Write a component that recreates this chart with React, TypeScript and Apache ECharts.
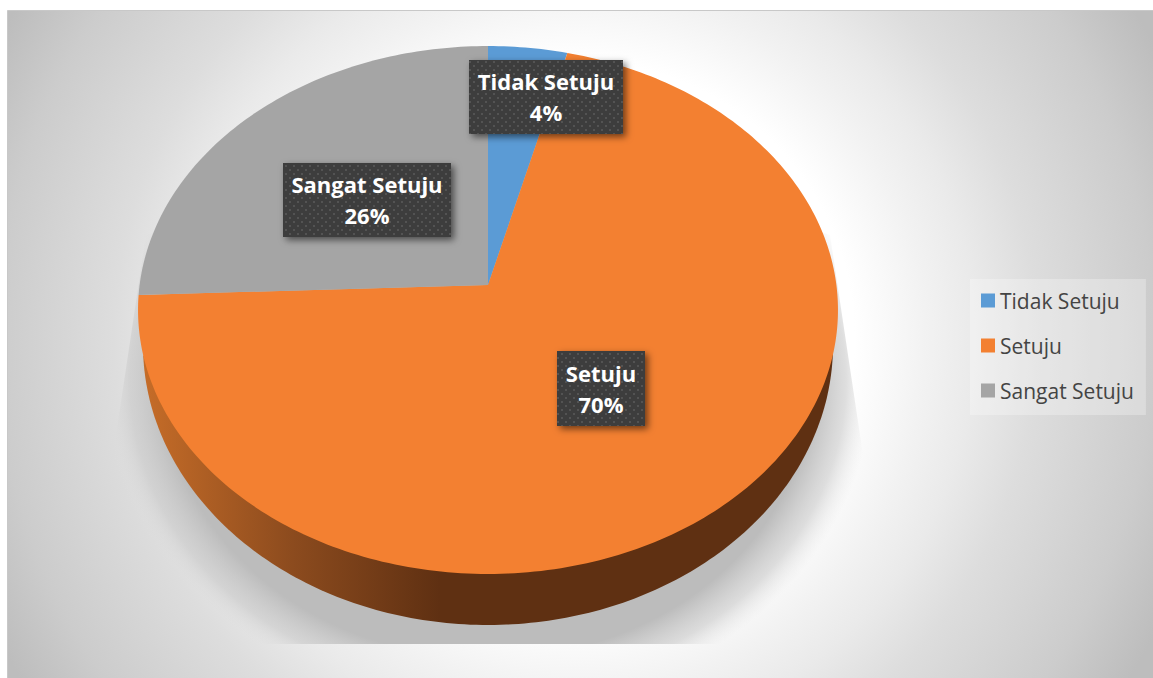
import React, { useEffect, useRef } from "react";
import * as echarts from "echarts";

const categories = ["Tidak Setuju", "Setuju", "Sangat Setuju"];
const values = [4, 70.4, 25.6];
const colors = ["#5B9BD5", "#F38031", "#A5A5A5"];
const labelBoxes = [
  [469, 60, 154, 74],
  [557, 351, 88, 75],
  [283, 163, 168, 74],
];

const total = values.reduce((a, b) => a + b, 0);
const W = 1153, H = 678;
const CX = 488, APEX = 285, R = 348.4, PA = -234.6, PC = 0.0947;
const WALL_CY = 345, WALL_RX = 345, WALL_RY = 280;
const rad = (d: number) => (d * Math.PI) / 180;

function rim(deg: number): number[] {
  const s = Math.sin(rad(deg)), u = Math.cos(rad(deg));
  const k = 1 + PC * u;
  return [CX + (R * s) / k, (PA * u + APEX) / k];
}
function wall(deg: number): number[] {
  return [CX + WALL_RX * Math.sin(rad(deg)), WALL_CY - WALL_RY * Math.cos(rad(deg))];
}
function arcPoints(a: number, b: number, f: (d: number) => number[]) {
  const n = Math.max(1, Math.ceil(Math.abs(b - a)));
  const pts: number[][] = [];
  for (let i = 0; i <= n; i++) pts.push(f(a + ((b - a) * i) / n));
  return pts;
}

function dotPattern() {
  const c = document.createElement("canvas");
  c.width = 8; c.height = 8;
  const g = c.getContext("2d")!;
  g.fillStyle = "#3D3D3D"; g.fillRect(0, 0, 8, 8);
  g.fillStyle = "#525252";
  g.fillRect(1, 1, 2, 2); g.fillRect(5, 5, 2, 2);
  return { image: c, repeat: "repeat", imageWidth: 8, imageHeight: 8 };
}

const wallGradient = new echarts.graphic.LinearGradient(145, 0, 440, 0, [
  { offset: 0, color: "#C56C28" },
  { offset: 0.5, color: "#8C4B1E" },
  { offset: 1, color: "#5F3012" },
], true);

export default function App() {
  const ref = useRef<HTMLDivElement>(null);
  useEffect(() => {
    const chart = echarts.init(ref.current!, undefined, { renderer: "svg" });
    const pattern = dotPattern();
    const starts: number[] = [];
    values.reduce((acc, v, i) => { starts[i] = acc; return acc + v; }, 0);

    const series = categories.map((name, i) => ({
      type: "custom",
      name,
      coordinateSystem: "none",
      data: [values[i]],
      itemStyle: { color: colors[i] },
      renderItem: (_p: any, api: any) => {
        const a0 = (starts[i] / total) * 360;
        const a1 = a0 + (api.value(0) / total) * 360;
        const children: any[] = [];
        const fa = Math.max(a0, 90), fb = Math.min(a1, 270);
        if (fb - fa > 10) {
          children.push({
            type: "polygon", z2: 1,
            shape: { points: arcPoints(fa, fb, wall) },
            style: { fill: wallGradient },
          });
        }
        children.push({
          type: "polygon", z2: 5,
          shape: { points: [[CX, APEX], ...arcPoints(a0, a1, rim)] },
          style: { fill: colors[i] },
        });
        const [bx, by, bw, bh] = labelBoxes[i];
        children.push({
          type: "rect", z2: 20,
          shape: { x: bx, y: by, width: bw, height: bh },
          style: {
            fill: pattern,
            shadowBlur: 7, shadowOffsetX: 3, shadowOffsetY: 3,
            shadowColor: "rgba(0,0,0,0.55)",
          },
        });
        children.push({
          type: "text", z2: 21,
          x: bx + bw / 2, y: by + bh / 2 - 0.5,
          style: {
            text: `${name}\n${Math.round((api.value(0) / total) * 100)}%`,
            fill: "#FFFFFF",
            font: 'bold 22px "Open Sans", sans-serif',
            lineHeight: 31,
            align: "center",
            verticalAlign: "middle",
          },
        });
        return { type: "group", children };
      },
    }));

    const K = 331 / 385, SY = 380;
    const ly = (y: number) => (y - SY) / K;
    chart.setOption({
      animation: false,
      backgroundColor: "#FFFFFF",
      legend: {
        orient: "vertical",
        left: 970,
        top: 279,
        padding: [11, 12, 14, 11],
        backgroundColor: "rgba(255,255,255,0.28)",
        icon: "rect",
        itemWidth: 14,
        itemHeight: 14,
        itemGap: 24,
        selectedMode: false,
        textStyle: { color: "#444444", fontSize: 21, fontFamily: '"Open Sans", sans-serif', lineHeight: 20 },
        data: categories.map((name, i) => ({ name, itemStyle: { color: colors[i] } })),
      },
      graphic: [
        {
          type: "rect", z: -5,
          shape: { x: 7.5, y: 10.5, width: W, height: H },
          style: {
            stroke: "#C8C8C8", lineWidth: 1,
            fill: new echarts.graphic.RadialGradient(575, 340, 650, [
              { offset: 0, color: "#FFFFFF" },
              { offset: 0.43, color: "#FFFFFF" },
              { offset: 0.54, color: "#F2F2F2" },
              { offset: 0.615, color: "#EAEAEA" },
              { offset: 0.71, color: "#DDDDDD" },
              { offset: 0.89, color: "#CCCCCC" },
              { offset: 1, color: "#BDBDBD" },
            ], true),
          },
        },
        {
          type: "polygon", z: -4,
          y: SY, scaleY: K,
          shape: {
            points: [
              [146, ly(235)], [CX, ly(120)], [830, ly(235)], [863, ly(455)],
              [863, ly(644)], [113, ly(644)], [113, ly(455)],
            ],
          },
          style: {
            fill: new echarts.graphic.RadialGradient(CX, 0, 385, [
              { offset: 0, color: "rgba(188,188,188,1)" },
              { offset: 0.84, color: "rgba(188,188,188,1)" },
              { offset: 0.93, color: "rgba(200,200,200,0.6)" },
              { offset: 1, color: "rgba(225,225,225,0)" },
            ], true),
          },
        },
      ],
      series,
    });
    return () => chart.dispose();
  }, []);
  return (
    <div style={{ position: "absolute", left: 0, top: 0, width: W, height: H }}>
      <div ref={ref} style={{ width: W, height: H }} />
    </div>
  );
}
